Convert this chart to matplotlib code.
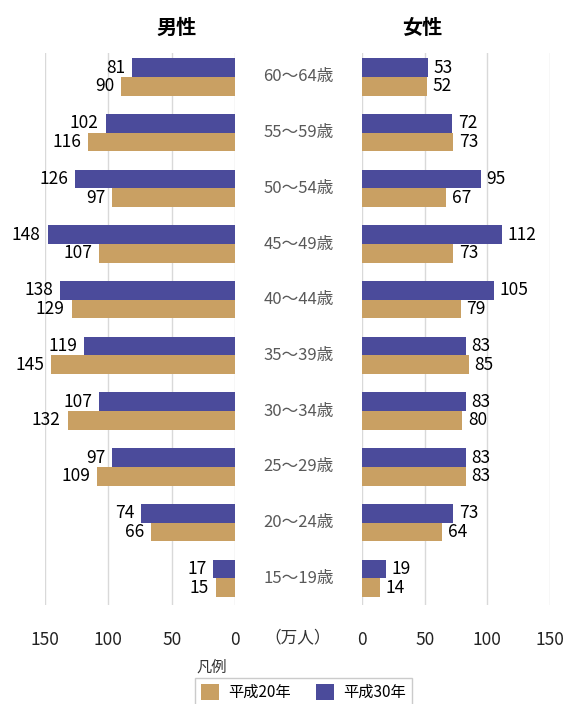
import matplotlib
matplotlib.use("Agg")
import matplotlib.pyplot as plt
from matplotlib.patches import Patch

plt.rcParams['font.family'] = ['Noto Sans CJK JP', 'DejaVu Sans']

ages = ["60～64歳", "55～59歳", "50～54歳", "45～49歳", "40～44歳",
        "35～39歳", "30～34歳", "25～29歳", "20～24歳", "15～19歳"]
men_h30 = [81, 102, 126, 148, 138, 119, 107, 97, 74, 17]
men_h20 = [90, 116, 97, 107, 129, 145, 132, 109, 66, 15]
women_h30 = [53, 72, 95, 112, 105, 83, 83, 83, 73, 19]
women_h20 = [52, 73, 67, 73, 79, 85, 80, 83, 64, 14]
ticks = [0, 50, 100, 150]
series_names = ["平成20年", "平成30年"]

c20 = "#C9A063"
c30 = "#4B4B9B"
W, H = 566, 704
fig = plt.figure(figsize=(W / 100, H / 100), dpi=100)

top, bottom = 53, 605
axL = fig.add_axes([45 / W, 1 - bottom / H, (235 - 45) / W, (bottom - top) / H])
axR = fig.add_axes([362 / W, 1 - bottom / H, (550 - 362) / W, (bottom - top) / H])

n = len(ages)
ypos = [n - 1 - i for i in range(n)]
bh = 0.335

for ax, v30, v20, left in [(axL, men_h30, men_h20, True), (axR, women_h30, women_h20, False)]:
    ax.barh([y + bh / 2 for y in ypos], v30, height=bh, color=c30, zorder=3)
    ax.barh([y - bh / 2 for y in ypos], v20, height=bh, color=c20, zorder=3)
    for y, a, b in zip(ypos, v30, v20):
        ha = 'right' if left else 'left'
        off = -5 if left else 4
        ax.annotate(str(a), (a, y + bh / 2), xytext=(off, 0), textcoords='offset points',
                    ha=ha, va='center', fontsize=12.5, color='black')
        ax.annotate(str(b), (b, y - bh / 2), xytext=(off, 0), textcoords='offset points',
                    ha=ha, va='center', fontsize=12.5, color='black')
    ax.set_xlim(0, 150)
    if left:
        ax.invert_xaxis()
    ax.set_ylim(-0.48, n - 1 + 0.43)
    ax.set_yticks([])
    ax.set_xticks(ticks)
    ax.set_xticklabels([str(t) for t in ticks], fontsize=12.5, color='#222222')
    ax.tick_params(axis='x', length=0, pad=19)
    ax.grid(axis='x', color='#D9D9D9', linewidth=1, zorder=0)
    for s in ax.spines.values():
        s.set_visible(False)

cx = (235 + 362) / 2 / W
for y, lab in zip(ypos, ages):
    yy = axL.transData.transform((0, y))[1]
    yf = fig.transFigure.inverted().transform((0, yy))[1]
    fig.text(cx, yf, lab, ha='center', va='center', fontsize=12, color='#595959')

fig.text(298 / W, 1 - 638 / H, "（万人）", ha='center', va='center', fontsize=12, color='#333333')
fig.text(177 / W, 1 - 27 / H, "男性", ha='center', va='center', fontsize=14.5, fontweight='bold')
fig.text(422 / W, 1 - 27 / H, "女性", ha='center', va='center', fontsize=14.5, fontweight='bold')

fig.text(196 / W, 1 - 667 / H, "凡例", ha='left', va='center', fontsize=11, color='#333333')
handles = [Patch(facecolor=c20, edgecolor='none'), Patch(facecolor=c30, edgecolor='none')]
leg = fig.legend(handles, series_names, loc='upper left', bbox_to_anchor=(195 / W, 1 - 678 / H),
                 ncol=2, frameon=True, fontsize=11, handlelength=1.2, handleheight=1.2,
                 handletextpad=0.6, columnspacing=1.6, borderpad=0.4, fancybox=False,
                 borderaxespad=0)
leg.get_frame().set_edgecolor('#BFBFBF')
leg.get_frame().set_linewidth(1)

fig.savefig("out.png", dpi=100)
